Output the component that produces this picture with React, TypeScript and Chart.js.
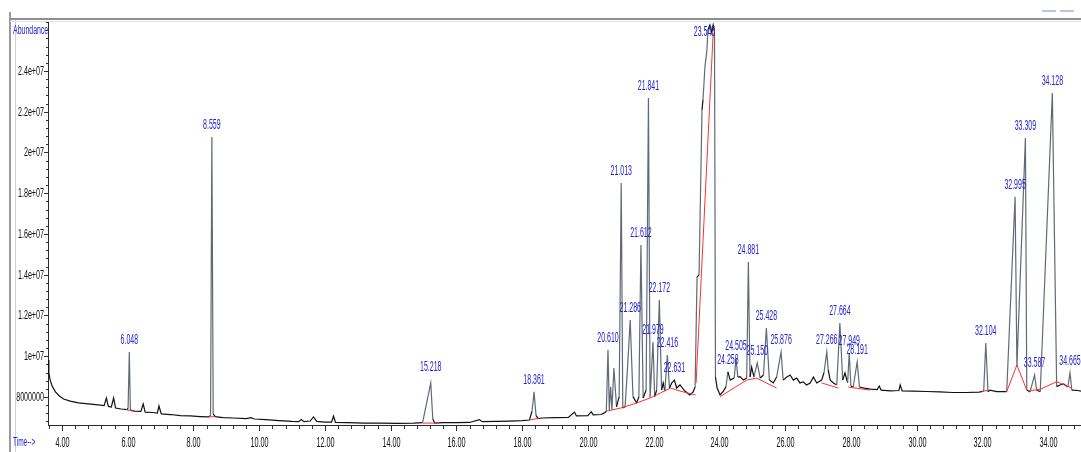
import { useEffect, useRef } from 'react';
import { Chart, registerables } from 'chart.js';

Chart.register(...registerables);

// Total ion chromatogram: [retention time (min), abundance]
const chromatogram: [number, number][] = [
  [3.574, 9.82e6], [3.60, 9.18e6], [3.64, 8.83e6], [3.70, 8.54e6], [3.80, 8.25e6], [3.92, 8.05e6],
  [4.05, 7.90e6], [4.25, 7.80e6], [4.50, 7.71e6], [4.80, 7.66e6], [5.10, 7.61e6], [5.28, 7.58e6],
  [5.35, 7.95e6], [5.41, 7.54e6], [5.50, 7.51e6], [5.57, 7.95e6], [5.63, 7.46e6], [5.80, 7.41e6],
  [5.98, 7.38e6], [6.01, 7.45e6], [6.048, 10.21e6], [6.08, 7.36e6], [6.20, 7.31e6], [6.40, 7.29e6],
  [6.47, 7.66e6], [6.53, 7.26e6], [6.75, 7.24e6], [6.90, 7.21e6], [6.95, 7.56e6], [7.02, 7.17e6],
  [7.30, 7.14e6], [7.60, 7.09e6], [7.90, 7.07e6], [8.20, 7.04e6], [8.45, 7.02e6], [8.52, 7.09e6],
  [8.559, 20.76e6], [8.60, 7.17e6], [8.66, 7.04e6], [8.90, 6.99e6], [9.20, 6.97e6], [9.60, 6.94e6],
  [9.75, 6.99e6], [9.85, 6.92e6], [10.20, 6.89e6], [10.60, 6.84e6], [11.00, 6.80e6], [11.20, 6.79e6],
  [11.28, 6.89e6], [11.36, 6.79e6], [11.55, 6.82e6], [11.65, 7.02e6], [11.75, 6.80e6], [12.00, 6.77e6],
  [12.20, 6.77e6], [12.26, 7.07e6], [12.32, 6.75e6], [12.70, 6.74e6], [13.20, 6.72e6], [13.70, 6.72e6],
  [14.20, 6.71e6], [14.70, 6.72e6], [14.97, 6.74e6], [15.218, 8.69e6], [15.28, 6.92e6], [15.34, 6.72e6],
  [15.60, 6.74e6], [16.00, 6.74e6], [16.40, 6.75e6], [16.70, 6.89e6], [16.78, 6.79e6], [17.20, 6.80e6],
  [17.60, 6.82e6], [18.00, 6.84e6], [18.22, 6.87e6], [18.30, 7.30e6], [18.361, 8.25e6], [18.42, 7.10e6],
  [18.48, 6.94e6], [18.60, 6.97e6], [19.00, 6.99e6], [19.40, 7.00e6], [19.59, 7.26e6], [19.65, 7.07e6],
  [20.00, 7.09e6], [20.10, 7.28e6], [20.16, 7.12e6], [20.40, 7.14e6], [20.50, 7.22e6], [20.56, 7.30e6],
  [20.61, 10.31e6], [20.65, 7.36e6], [20.69, 8.50e6], [20.73, 7.36e6], [20.79, 9.42e6], [20.87, 7.52e6],
  [20.95, 8.02e6], [21.013, 18.50e6], [21.06, 7.46e6], [21.13, 7.52e6], [21.20, 9.33e6], [21.286, 11.78e6],
  [21.37, 8.02e6], [21.48, 7.71e6], [21.55, 8.00e6], [21.612, 15.46e6], [21.68, 7.95e6], [21.77, 8.34e6],
  [21.841, 22.68e6], [21.89, 7.95e6], [21.979, 10.70e6], [22.03, 8.02e6], [22.09, 8.34e6], [22.172, 12.76e6],
  [22.24, 8.34e6], [22.29, 8.69e6], [22.34, 8.29e6], [22.416, 10.06e6], [22.48, 8.44e6], [22.55, 8.69e6],
  [22.631, 8.83e6], [22.70, 8.44e6], [22.80, 8.59e6], [22.95, 8.29e6], [23.10, 8.10e6], [23.20, 8.25e6],
  [23.26, 8.49e6], [23.32, 13.89e6], [23.38, 13.99e6], [23.47, 22.09e6], [23.50, 22.58e6], [23.56, 24.20e6],
  [23.62, 25.03e6], [23.65, 26.01e6], [23.71, 26.26e6], [23.77, 25.87e6], [23.81, 26.26e6], [23.85, 26.01e6],
  [23.88, 8.98e6], [23.93, 8.44e6], [24.02, 8.10e6], [24.12, 8.29e6], [24.20, 8.51e6], [24.258, 9.23e6],
  [24.33, 8.83e6], [24.45, 8.93e6], [24.505, 9.91e6], [24.56, 8.98e6], [24.63, 9.00e6], [24.73, 8.83e6],
  [24.83, 8.93e6], [24.881, 14.63e6], [24.93, 8.98e6], [24.98, 9.47e6], [25.05, 8.98e6], [25.15, 9.67e6],
  [25.24, 8.93e6], [25.34, 9.08e6], [25.428, 11.39e6], [25.52, 8.83e6], [25.64, 8.69e6], [25.74, 8.98e6],
  [25.876, 10.21e6], [25.94, 8.83e6], [26.05, 8.98e6], [26.15, 9.08e6], [26.25, 8.83e6], [26.35, 8.93e6],
  [26.45, 8.69e6], [26.55, 8.74e6], [26.65, 8.59e6], [26.76, 8.69e6], [26.86, 8.98e6], [26.96, 8.69e6],
  [27.11, 8.83e6], [27.18, 9.18e6], [27.266, 10.21e6], [27.31, 9.33e6], [27.37, 8.83e6], [27.47, 8.69e6],
  [27.57, 8.59e6], [27.664, 11.63e6], [27.75, 8.83e6], [27.82, 9.18e6], [27.90, 8.69e6], [27.949, 10.16e6],
  [28.00, 8.54e6], [28.07, 8.49e6], [28.191, 9.72e6], [28.26, 8.49e6], [28.40, 8.44e6], [28.60, 8.39e6],
  [28.80, 8.36e6], [28.86, 8.54e6], [28.92, 8.34e6], [29.20, 8.30e6], [29.46, 8.32e6], [29.50, 8.59e6],
  [29.56, 8.30e6], [29.90, 8.29e6], [30.30, 8.27e6], [30.70, 8.25e6], [31.10, 8.22e6], [31.50, 8.22e6],
  [31.90, 8.24e6], [32.04, 8.29e6], [32.104, 10.65e6], [32.17, 8.26e6], [32.23, 8.34e6], [32.44, 8.26e6],
  [32.74, 8.26e6], [32.995, 17.83e6], [33.05, 9.49e6], [33.309, 20.71e6], [33.35, 8.34e6], [33.45, 8.25e6],
  [33.587, 9.08e6], [33.65, 8.34e6], [33.76, 8.26e6], [34.128, 22.92e6], [34.26, 8.51e6], [34.36, 8.59e6],
  [34.47, 8.64e6], [34.60, 8.49e6], [34.665, 9.18e6], [34.72, 8.34e6], [34.90, 8.32e6], [35.00, 8.29e6],
];

// Integration baselines (red)
const integrationBaselines: [number, number][][] = [
  [[5.96, 7.38e6], [6.15, 7.31e6]],
  [[8.45, 7.02e6], [8.65, 7.04e6]],
  [[14.97, 6.72e6], [15.45, 6.72e6]],
  [[18.22, 6.87e6], [18.52, 6.96e6]],
  [[20.55, 7.30e6], [21.00, 7.46e6], [21.40, 7.66e6], [21.89, 7.95e6], [22.51, 8.44e6], [22.80, 8.29e6], [23.28, 8.10e6]],
  [[23.29, 8.69e6], [23.81, 25.87e6]],
  [[24.02, 8.02e6], [24.83, 8.83e6], [25.13, 8.93e6], [25.74, 8.44e6]],
  [[27.11, 8.69e6], [27.62, 8.44e6]],
  [[27.92, 8.49e6], [28.58, 8.34e6]],
  [[31.98, 8.26e6], [32.18, 8.34e6]],
  [[32.74, 8.26e6], [33.05, 9.57e6], [33.35, 8.34e6]],
  [[33.40, 8.30e6], [33.76, 8.38e6], [34.26, 8.75e6], [34.72, 8.44e6]],
];

// Peak annotations
const peakLabels = ['6.048', '8.559', '15.218', '18.361', '20.610', '21.013', '21.286', '21.612', '21.841', '21.979',
  '22.172', '22.416', '22.631', '23.545', '24.258', '24.505', '24.881', '25.150', '25.428', '25.876',
  '27.266', '27.664', '27.949', '28.191', '32.104', '32.995', '33.309', '33.587', '34.128', '34.665'];
const peakTimes = [6.048, 8.559, 15.218, 18.361, 20.61, 21.013, 21.286, 21.612, 21.841, 21.979,
  22.172, 22.416, 22.631, 23.545, 24.258, 24.505, 24.881, 25.15, 25.428, 25.876,
  27.266, 27.664, 27.949, 28.191, 32.104, 32.995, 33.309, 33.587, 34.128, 34.665];
const peakHeights = [10.21e6, 20.76e6, 8.9e6, 8.25e6, 10.31e6, 18.5e6, 11.78e6, 15.46e6, 22.68e6, 10.7e6,
  12.76e6, 10.06e6, 8.83e6, 26.4e6, 9.23e6, 9.91e6, 14.63e6, 9.67e6, 11.39e6, 10.21e6,
  10.21e6, 11.63e6, 10.16e6, 9.72e6, 10.65e6, 17.83e6, 20.71e6, 9.08e6, 22.92e6, 9.18e6];

// Axis ticks
const xTickValues = [4, 6, 8, 10, 12, 14, 16, 18, 20, 22, 24, 26, 28, 30, 32, 34];
const xTickLabels = ['4.00', '6.00', '8.00', '10.00', '12.00', '14.00', '16.00', '18.00', '20.00', '22.00',
  '24.00', '26.00', '28.00', '30.00', '32.00', '34.00'];
const yTickValues = [8e6, 1e7, 1.2e7, 1.4e7, 1.6e7, 1.8e7, 2e7, 2.2e7, 2.4e7];
const yTickLabels = ['8000000', '1e+07', '1.2e+07', '1.4e+07', '1.6e+07', '1.8e+07', '2e+07', '2.2e+07', '2.4e+07'];

const X_MIN = 3.574;
const X_MAX = 35.0;
const Y_MIN = 6.626e6;
const Y_MAX = 2.6404e7;

const FONT = '"Liberation Sans", Arial, sans-serif';
const BLUE = '#2323d6';

function drawText(
  ctx: CanvasRenderingContext2D, text: string, x: number, y: number,
  size: number, sx: number, color: string, align: CanvasTextAlign, baseline: CanvasTextBaseline,
) {
  ctx.save();
  ctx.translate(x, y);
  ctx.scale(sx, 1);
  ctx.font = `${size}px ${FONT}`;
  ctx.fillStyle = color;
  ctx.textAlign = align;
  ctx.textBaseline = baseline;
  ctx.fillText(text, 0, 0);
  ctx.restore();
}

const overlayPlugin = {
  id: 'overlay',
  afterDraw(chart: any) {
    const { ctx, chartArea: ca, scales } = chart;
    const xs = scales.x;
    const ys = scales.y;
    const line = (x1: number, y1: number, x2: number, y2: number) => {
      ctx.beginPath();
      ctx.moveTo(x1, y1);
      ctx.lineTo(x2, y2);
      ctx.stroke();
    };
    ctx.save();
    // window frame
    ctx.lineWidth = 2;
    ctx.strokeStyle = '#9a9a9a';
    line(10, 12, 10, 452);
    ctx.strokeStyle = '#8e8e8e';
    line(10, 19, 1081, 19);
    ctx.lineWidth = 1;
    ctx.strokeStyle = '#cfd3da';
    line(15.5, 20, 15.5, 452);
    ctx.strokeStyle = '#dde2ea';
    line(10, 21.5, 1081, 21.5);
    // top-right dashes
    ctx.strokeStyle = '#9fb2e6';
    ctx.lineWidth = 1.5;
    line(1042, 11, 1056, 11);
    line(1060, 11, 1074, 11);

    // x ticks
    ctx.strokeStyle = '#303030';
    ctx.lineWidth = 1;
    for (let t = 3.6; t <= X_MAX + 1e-6; t += 0.4) {
      const px = Math.round(xs.getPixelForValue(t)) + 0.5;
      line(px, ca.bottom, px, ca.bottom + 4);
    }
    xTickValues.forEach((v, i) => {
      const px = Math.round(xs.getPixelForValue(v)) + 0.5;
      line(px, ca.bottom, px, ca.bottom + 6);
      drawText(ctx, xTickLabels[i], px, 443, 14, 0.52, '#111', 'center', 'middle');
    });
    // y ticks
    for (let v = 6.8e6; v <= Y_MAX; v += 4e5) {
      const py = Math.round(ys.getPixelForValue(v)) + 0.5;
      line(ca.left - 2, py, ca.left, py);
    }
    yTickValues.forEach((v, i) => {
      const py = Math.round(ys.getPixelForValue(v)) + 0.5;
      line(ca.left - 4, py, ca.left, py);
      drawText(ctx, yTickLabels[i], ca.left - 4, py, 13, 0.55, '#111', 'right', 'middle');
    });

    // axis titles
    drawText(ctx, 'Abundance', 13, 31, 12, 0.58, BLUE, 'left', 'middle');
    drawText(ctx, 'Time-->', 13, 442, 13, 0.5, BLUE, 'left', 'middle');

    // peak labels
    peakLabels.forEach((lab, i) => {
      const px = xs.getPixelForValue(peakTimes[i]);
      let py = ys.getPixelForValue(peakHeights[i]) - 5;
      if (py < ca.top + 17) py = ca.top + 17;
      drawText(ctx, lab, px, py, 14, 0.5, BLUE, 'center', 'bottom');
    });
    ctx.restore();
  },
};

export default function App() {
  const canvasRef = useRef<HTMLCanvasElement | null>(null);

  useEffect(() => {
    document.body.style.margin = '0';
    const canvas = canvasRef.current;
    if (!canvas) return;

    const datasets: any[] = [
      {
        label: 'TIC',
        data: chromatogram.map(([x, y]) => ({ x, y })),
        borderWidth: 1.2,
        borderColor: '#111',
        pointRadius: 0,
        tension: 0,
        order: 2,
        segment: {
          borderColor: (c: any) => (Math.abs(c.p1.y - c.p0.y) > 14 ? '#5f6a78' : '#111'),
        },
      },
      ...integrationBaselines.map((seg, i) => ({
        label: `baseline ${i + 1}`,
        data: seg.map(([x, y]) => ({ x, y })),
        borderWidth: 1,
        borderColor: '#ff3030',
        pointRadius: 0,
        tension: 0,
        order: 1,
      })),
    ];

    const chart = new Chart(canvas, {
      type: 'line',
      data: { datasets },
      options: {
        animation: false,
        responsive: false,
        devicePixelRatio: 1,
        layout: { padding: { top: 22, left: 0, right: 0, bottom: 0 } },
        plugins: { legend: { display: false }, tooltip: { enabled: false } },
        elements: { point: { radius: 0 } },
        scales: {
          x: {
            type: 'linear',
            min: X_MIN,
            max: X_MAX,
            grid: { display: false },
            border: { display: true, color: '#2a2a2a', width: 1 },
            ticks: { display: false },
            afterFit: (s: any) => { s.height = 27; },
          },
          y: {
            type: 'linear',
            min: Y_MIN,
            max: Y_MAX,
            grid: { display: false },
            border: { display: true, color: '#2a2a2a', width: 1 },
            ticks: { display: false },
            afterFit: (s: any) => { s.width = 48; },
          },
        },
      },
      plugins: [overlayPlugin],
    });

    return () => chart.destroy();
  }, []);

  return (
    <div style={{ width: 1081, height: 452, position: 'relative', background: '#fff' }}>
      <canvas ref={canvasRef} width={1081} height={452} style={{ display: 'block' }} />
    </div>
  );
}
